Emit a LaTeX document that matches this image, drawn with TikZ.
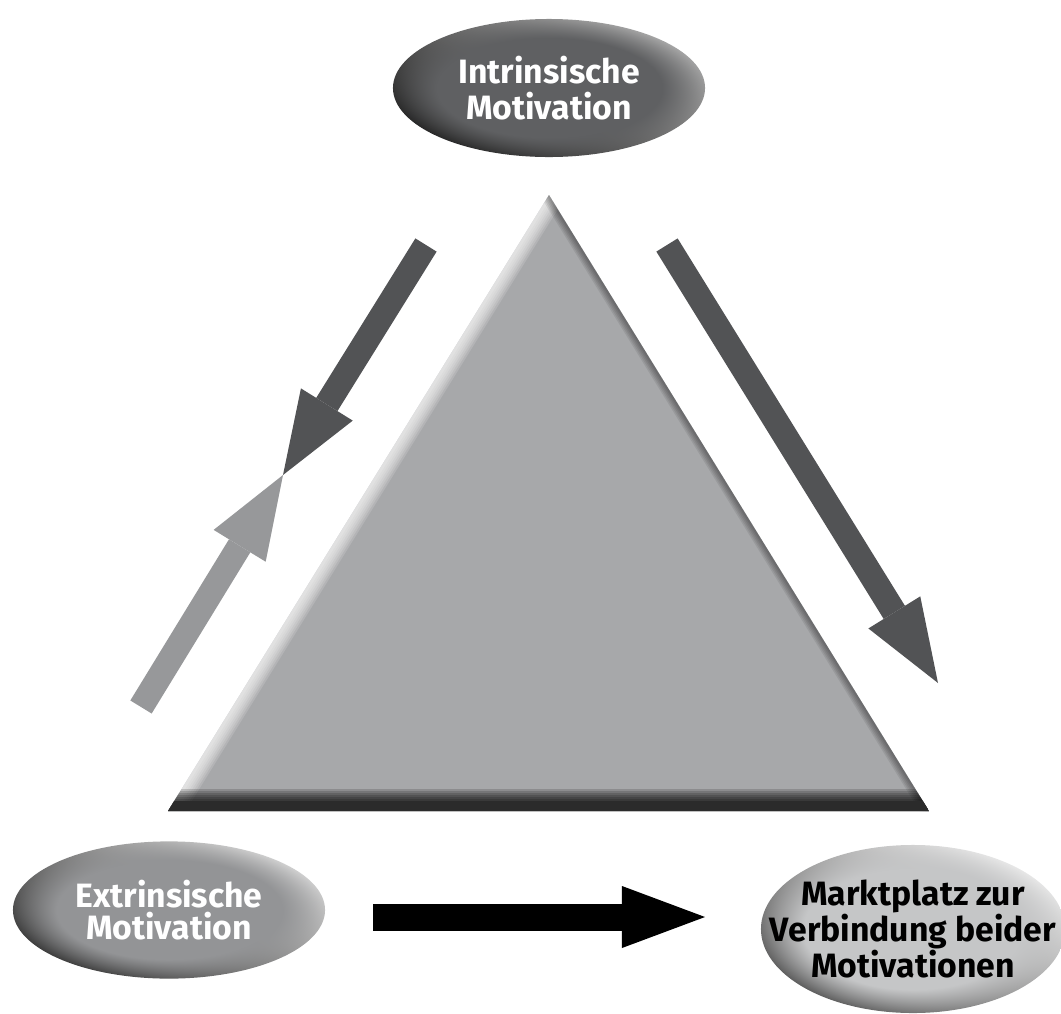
\documentclass[tikz,border=0pt]{standalone}
\usepackage{fontspec}
\setmainfont{Fira Sans}
\usetikzlibrary{arrows.meta, shapes.geometric, fadings}
\definecolor{trifill}{HTML}{A7A8AA}
\definecolor{darkarrow}{HTML}{525355}
\definecolor{lightarrow}{HTML}{97989A}
\definecolor{intrmain}{HTML}{5F6062}
\definecolor{intrlight}{HTML}{A8A8A8}
\definecolor{intrdark}{HTML}{262626}
\definecolor{extrmain}{HTML}{939496}
\definecolor{extrlight}{HTML}{D2D2D2}
\definecolor{extrdark}{HTML}{3A3A3A}
\definecolor{marktmain}{HTML}{C5C6C7}
\definecolor{marktlight}{HTML}{EAEAEA}
\definecolor{marktdark}{HTML}{5A5A5A}
\pgfdeclareradialshading{rimshading}{\pgfpointorigin}{color(0bp)=(pgftransparent!0); color(18bp)=(pgftransparent!0); color(25bp)=(pgftransparent!100); color(50bp)=(pgftransparent!100)}
\pgfdeclarefading{rimfade}{\pgfuseshading{rimshading}}
\tikzset{
  pill/.style      = {ellipse, inner sep=0pt, align=center},
  pillshade/.style n args = {3}{left color=#2, right color=#3, shading angle=-30,
                     postaction={fill=#1, path fading=rimfade}},
  pilltext/.style  = {font=\bfseries\fontsize{24}{#1}\selectfont},
  bigarrow/.style  = {line width=0.625cm,
                     -{Triangle[length=2.075cm, width=1.525cm, line width=0pt]}},
  bevel/.style     = {line width=#1*0.025cm}
}
\begin{document}
\begin{tikzpicture}[x=0.025cm, y=-0.025cm]
\useasboundingbox (0,0) rectangle (1061,1014);
%% ===== triangle =====
\coordinate (apex) at (549,195);
\coordinate (bl) at (168,811);
\coordinate (br) at (929,811);
\fill[trifill] (apex) -- (bl) -- (br) -- cycle;
\begin{scope}
  \clip (apex) -- (bl) -- (br) -- cycle;
  \foreach \w in {30,26,...,6}
    \draw[white, opacity=0.15, bevel=\w] (apex) -- (bl);
  \foreach \w in {16,13,...,4}
    \draw[black, opacity=0.08, bevel=\w] (apex) -- (br);
  \foreach \w in {44,40,...,20}
    \draw[black, opacity=0.16, bevel=\w] (bl) -- (br);
  \draw[black!83, bevel=20] (bl) -- (br);
\end{scope}
%% ===== ellipses =====
\node[pill, minimum width=7.8cm, minimum height=3.45cm, text=white, pilltext=26,
      pillshade={intrmain}{intrlight}{intrdark}] (intr) at (549,88) {Intrinsische\\Motivation};
\node[pill, minimum width=7.8cm, minimum height=3.43cm, text=white, pilltext=23,
      pillshade={extrmain}{extrlight}{extrdark}] (extr) at (169,910) {Extrinsische\\Motivation};
\node[pill, inner xsep=-1.3cm, minimum width=7.6cm, minimum height=4.2cm, text=black, pilltext=23,
      pillshade={marktmain}{marktlight}{marktdark}] (markt) at (913,929) {Marktplatz zur\\Verbindung beider\\Motivationen};
%% ===== arrows =====
\coordinate (la1) at (426,245);
\coordinate (meet) at (283,475);
\coordinate (lb1) at (141,707);
\coordinate (ra1) at (667,245);
\coordinate (ra2) at (938,683);
\coordinate (ba1) at (373,917);
\coordinate (ba2) at (705,917);
\draw[bigarrow, darkarrow] (la1) -- (meet);
\draw[bigarrow, lightarrow] (lb1) -- (meet);
\draw[bigarrow, darkarrow] (ra1) -- (ra2);
\draw[bigarrow, black, line width=0.675cm,
      -{Triangle[length=2.075cm, width=1.55cm, line width=0pt]}] (ba1) -- (ba2);
\end{tikzpicture}
\end{document}
